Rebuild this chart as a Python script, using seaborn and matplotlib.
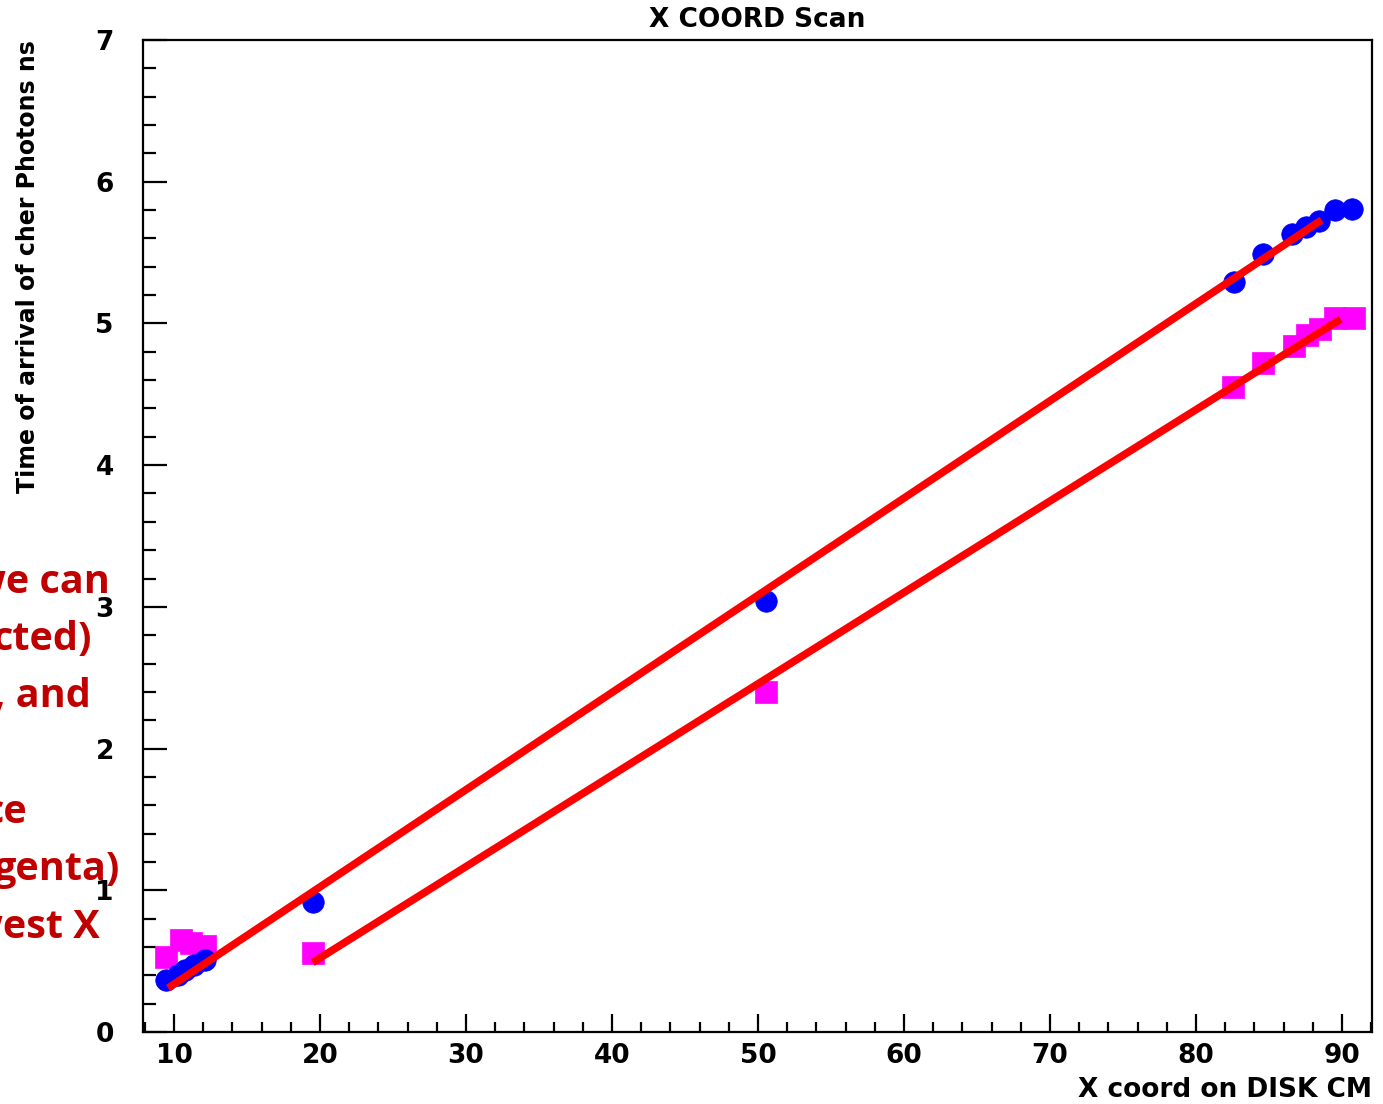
import matplotlib
matplotlib.use("Agg")
import matplotlib.pyplot as plt
import seaborn as sns
import pandas as pd
from matplotlib.ticker import MultipleLocator

# ---- data ----
blue_x = [9.45, 10.3, 10.75, 11.4, 12.1, 19.5, 50.55, 82.6, 84.6, 86.6, 87.5, 88.4, 89.5, 90.7]
blue_y = [0.37, 0.40, 0.44, 0.47, 0.51, 0.92, 3.04, 5.29, 5.49, 5.63, 5.68, 5.72, 5.80, 5.81]
mag_x = [9.45, 10.5, 11.2, 12.1, 19.5, 50.55, 82.5, 84.6, 86.7, 87.6, 88.5, 89.5, 90.8]
mag_y = [0.53, 0.65, 0.63, 0.61, 0.56, 2.40, 4.55, 4.72, 4.84, 4.92, 4.96, 5.04, 5.04]
fit_blue_x = [9.6, 88.6]
fit_blue_y = [0.31, 5.73]
fit_mag_x = [19.5, 89.9]
fit_mag_y = [0.49, 5.03]
x_ticks = [10, 20, 30, 40, 50, 60, 70, 80, 90]
y_ticks = [0, 1, 2, 3, 4, 5, 6, 7]
title = "X COORD Scan"
x_label = "X coord on DISK CM"
y_label = "Time of arrival of cher Photons ns"
overlay_lines = ["we can", "cted)", ", and", "ce", "genta)", "west X"]

sns.set_theme(style="white")
plt.rcParams["font.family"] = ["DejaVu Sans"]
plt.rcParams["text.color"] = "black"
plt.rcParams["axes.labelcolor"] = "black"
plt.rcParams["xtick.color"] = "black"
plt.rcParams["ytick.color"] = "black"

W, H = 1383, 1104
fig = plt.figure(figsize=(W / 100, H / 100), dpi=100)
ax = fig.add_axes([143 / W, 1 - 1032 / H, (1372 - 143) / W, (1032 - 40) / H])

df_b = pd.DataFrame({"x": blue_x, "y": blue_y})
df_m = pd.DataFrame({"x": mag_x, "y": mag_y})
df_fb = pd.DataFrame({"x": fit_blue_x, "y": fit_blue_y})
df_fm = pd.DataFrame({"x": fit_mag_x, "y": fit_mag_y})

sns.scatterplot(data=df_m, x="x", y="y", ax=ax, marker="s", s=270,
                color="#ff00ff", edgecolor="#ff00ff", linewidth=0.5, zorder=3)
sns.scatterplot(data=df_b, x="x", y="y", ax=ax, marker="o", s=240,
                color="#0000ff", edgecolor="#0000ff", linewidth=0.5, zorder=3)
sns.lineplot(data=df_fb, x="x", y="y", ax=ax, color="#ff0000", linewidth=5.5,
             zorder=4, solid_capstyle="butt")
sns.lineplot(data=df_fm, x="x", y="y", ax=ax, color="#ff0000", linewidth=5.5,
             zorder=4, solid_capstyle="butt")

ax.set_xlim(7.88, 92.05)
ax.set_ylim(0, 7)
ax.set_xticks(x_ticks)
ax.set_yticks(y_ticks)
ax.xaxis.set_minor_locator(MultipleLocator(2))
ax.yaxis.set_minor_locator(MultipleLocator(0.2))
ax.tick_params(axis="both", which="both", direction="in", top=False, right=False,
               bottom=True, left=True, colors="black", width=1.6)
ax.tick_params(axis="y", which="major", length=17, pad=21, labelsize=19)
ax.tick_params(axis="y", which="minor", length=9.5)
ax.tick_params(axis="x", which="major", length=13, pad=8, labelsize=19)
ax.tick_params(axis="x", which="minor", length=7.5)
for lab in ax.get_xticklabels() + ax.get_yticklabels():
    lab.set_fontweight("bold")
for sp in ax.spines.values():
    sp.set_color("black")
    sp.set_linewidth(1.6)
ax.set_xlabel("")
ax.set_ylabel("")
ax.grid(False)

fig.text(757 / W, 1 - 20 / H, title, ha="center", va="center",
         fontsize=19, fontweight="bold", color="black")
fig.text(1372 / W, 1 - 1090 / H, x_label, ha="right", va="center",
         fontsize=19, fontweight="bold", color="black")
fig.text(28 / W, 1 - 40 / H, y_label, ha="center", va="top", rotation=90,
         fontsize=17, fontweight="bold", color="black")

right_px = [110, 92, 91, 27, 120, 100]
base_px = [593, 650, 707, 823, 880, 938]
for t, rx, by in zip(overlay_lines, right_px, base_px):
    fig.text(rx / W, 1 - by / H, t, ha="right", va="baseline",
             fontsize=28.5, fontweight="bold", color="#c00000",
             family=["Open Sans", "DejaVu Sans"], zorder=10)

fig.savefig("out.png", dpi=100)
